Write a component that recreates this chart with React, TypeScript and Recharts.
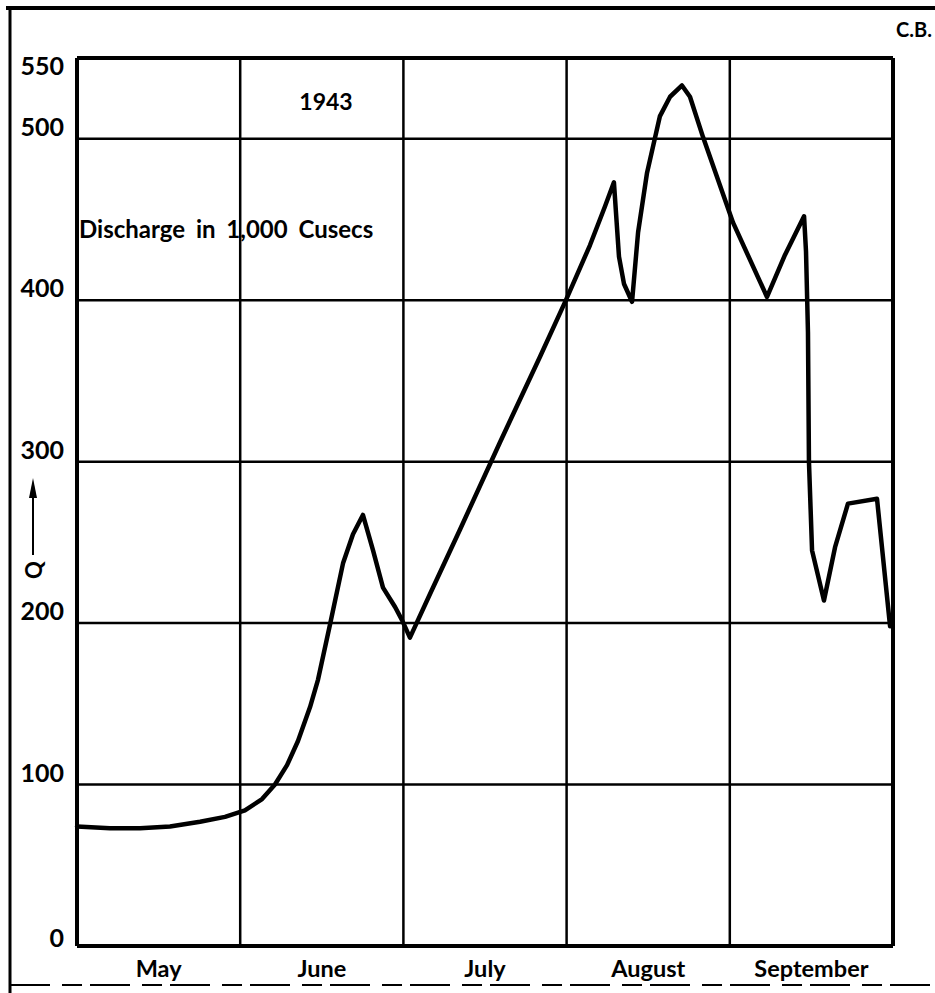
import React from 'react';
import { LineChart, Line, XAxis, YAxis, ReferenceLine } from 'recharts';

// x position measured in months from 1 May (0 = 1 May, 5 = 1 October)
const monthPos = [
  0.0, 0.202, 0.386, 0.570, 0.754, 0.907, 1.029, 1.134, 1.213, 1.287, 1.354, 1.428, 1.477,
  1.550, 1.630, 1.691, 1.752, 1.814, 1.875, 1.949, 1.991, 2.040, 2.163, 2.347, 2.592, 2.837,
  2.996, 3.143, 3.235, 3.290, 3.321, 3.352, 3.401, 3.438, 3.493, 3.572, 3.634, 3.707, 3.756,
  3.836, 4.020, 4.228, 4.338, 4.455, 4.467, 4.479, 4.485, 4.504, 4.577, 4.645, 4.724, 4.902,
  4.982,
];
// Discharge in 1,000 cusecs
const discharge = [
  74, 73, 73, 74, 77, 80, 84, 91, 100, 112, 127, 148, 165,
  199, 237, 255, 267, 245, 222, 210, 202, 191, 218, 258, 312, 365,
  400, 434, 458, 473, 427, 410, 399, 442, 479, 514, 526, 533, 526,
  501, 448, 402, 428, 452, 430, 380, 300, 245, 214, 247, 274, 277,
  198,
];
const months = ['May', 'June', 'July', 'August', 'September'];
const monthCentres = [0.5, 1.5, 2.5, 3.5, 4.5];
const monthBounds = [1, 2, 3, 4];
const yTicks = [0, 100, 200, 300, 400, 500, 550];
const yGrid = [100, 200, 300, 400, 500];

const data = monthPos.map((m, i) => ({ m, q: discharge[i] }));

const FONT = 'Lato, "Open Sans", sans-serif';

const YTick = (props: any) => {
  const { y, payload } = props;
  const dy = payload.value === 550 ? 17 : payload.value === 0 ? 1 : -3;
  return (
    <text x={64} y={y + dy} textAnchor="end"
      fontFamily={FONT} fontWeight={700} fontSize={25} fill="#000">
      {payload.value}
    </text>
  );
};

const XTick = (props: any) => {
  const { x, payload } = props;
  const label = months[Math.round(payload.value - 0.5)];
  return (
    <text x={x} y={977} textAnchor="middle"
      fontFamily={FONT} fontWeight={700} fontSize={23.5} fill="#000">
      {label}
    </text>
  );
};

export default function App() {
  return (
    <div style={{ position: 'absolute', left: 0, top: 0, width: 935, height: 993, background: '#fff', overflow: 'hidden' }}>
      <svg width={935} height={993} style={{ position: 'absolute', left: 0, top: 0 }}>
        <line x1={6} y1={8} x2={935} y2={8} stroke="#000" strokeWidth={4} />
        <line x1={10} y1={6} x2={10} y2={993} stroke="#000" strokeWidth={3} />
        <line x1={10} y1={985} x2={935} y2={985} stroke="#000" strokeWidth={2} strokeDasharray="40 12 20 8" />
        <text x={932} y={37} textAnchor="end"
          fontFamily={FONT} fontWeight={700} fontSize={20} fill="#000">C.B.</text>
        <line x1={33} y1={490} x2={33} y2={555} stroke="#000" strokeWidth={2} />
        <path d="M33 478 L37 498 L29 498 Z" fill="#000" />
        <text x={33} y={570} textAnchor="middle" dominantBaseline="central"
          fontFamily={FONT} fontWeight={700} fontSize={22} fill="#000"
          transform="rotate(-90 33 570)">Q</text>
        <text x={326} y={110} textAnchor="middle"
          fontFamily={FONT} fontWeight={700} fontSize={23} fill="#000">1943</text>
        <text x={79} y={238} textAnchor="start"
          fontFamily={FONT} fontWeight={700} fontSize={24} fill="#000" wordSpacing={5}>Discharge in 1,000 Cusecs</text>
      </svg>
      <div style={{ position: 'absolute', left: 0, top: 0 }}>
        <LineChart width={935} height={993} data={data}
          margin={{ top: 58, right: 42, bottom: 0, left: 0 }}>
          <XAxis dataKey="m" type="number" domain={[0, 5]} ticks={monthCentres}
            interval={0} height={47} axisLine={false} tickLine={false} tick={<XTick />} />
          <YAxis type="number" domain={[0, 550]} ticks={yTicks} interval={0}
            width={77} axisLine={false} tickLine={false} tick={<YTick />} />
          {monthBounds.map((b) => (
            <ReferenceLine key={'v' + b} x={b} stroke="#000" strokeWidth={2.5} />
          ))}
          {yGrid.map((g) => (
            <ReferenceLine key={'h' + g} y={g} stroke="#000" strokeWidth={2.5} />
          ))}
          <ReferenceLine x={0} stroke="#000" strokeWidth={4} />
          <ReferenceLine x={5} stroke="#000" strokeWidth={4} />
          <ReferenceLine y={0} stroke="#000" strokeWidth={4} />
          <ReferenceLine y={550} stroke="#000" strokeWidth={4} />
          <Line type="linear" dataKey="q" stroke="#000" strokeWidth={4.5} dot={false}
            strokeLinejoin="round" strokeLinecap="round" isAnimationActive={false} />
        </LineChart>
      </div>
    </div>
  );
}
